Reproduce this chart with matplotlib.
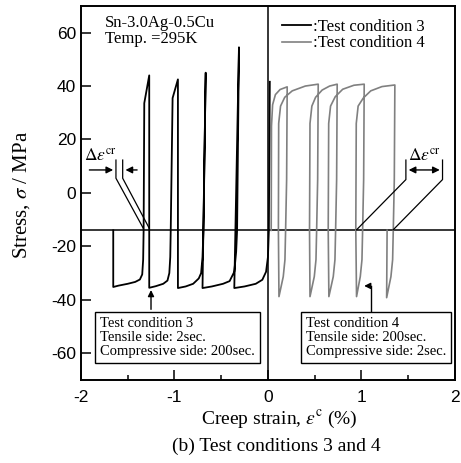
import matplotlib
matplotlib.use('Agg')
import matplotlib.pyplot as plt

plt.rcParams['axes.unicode_minus'] = False
plt.rcParams['mathtext.fontset'] = 'stix'

# Test condition 3 (black): tensile 2 s, compressive 200 s
black_x = [-1.655, -1.655, -1.60, -1.50, -1.42, -1.37, -1.345, -1.335, -1.330, -1.323, -1.27,
           -1.27, -1.20, -1.12, -1.075, -1.055, -1.045, -1.040, -1.02, -0.963,
           -0.963, -0.88, -0.80, -0.74, -0.715, -0.700, -0.690, -0.666,
           -0.700, -0.60, -0.48, -0.41, -0.36, -0.340, -0.330, -0.310,
           -0.360, -0.25, -0.13, -0.06, -0.02, 0.000, 0.010, 0.020]
black_y = [-14.0, -35.2, -34.7, -34.0, -33.3, -32.4, -30.5, -25.0, -14.0, 33.6, 44.0,
           -35.5, -34.9, -34.0, -32.8, -30.0, -24.0, -14.0, 35.5, 42.5,
           -35.6, -35.0, -34.0, -32.0, -30.0, -24.0, -14.0, 45.0,
           -35.6, -35.0, -34.0, -33.0, -29.5, -22.0, -14.0, 54.5,
           -35.6, -35.0, -34.0, -32.5, -29.5, -24.0, -14.0, 41.6]

# Test condition 4 (gray): tensile 200 s, compressive 2 s
gray_x = [0.035, 0.038, 0.05, 0.08, 0.13, 0.206,
          0.200, 0.189, 0.182, 0.164, 0.118,
          0.112, 0.115, 0.135, 0.18, 0.26, 0.40, 0.538,
          0.532, 0.521, 0.514, 0.496, 0.450,
          0.445, 0.450, 0.47, 0.51, 0.58, 0.66, 0.741,
          0.735, 0.724, 0.717, 0.699, 0.652,
          0.645, 0.650, 0.67, 0.72, 0.80, 0.92, 1.030,
          1.024, 1.013, 1.006, 0.988, 0.948,
          0.940, 0.945, 0.965, 1.02, 1.10, 1.22, 1.358,
          1.352, 1.341, 1.334, 1.316, 1.270,
          1.275]
gray_y = [-14.0, 25.0, 33.0, 36.8, 38.7, 39.7,
          5.0, -14.0, -25.0, -31.3, -38.8,
          -14.0, 26.0, 32.5, 35.8, 38.2, 40.0, 40.7,
          5.0, -14.0, -25.0, -31.3, -38.8,
          -14.0, 26.0, 32.5, 35.8, 38.5, 40.0, 40.7,
          5.0, -14.0, -25.0, -31.3, -38.8,
          -14.0, 26.0, 32.5, 36.0, 38.8, 40.3, 40.7,
          5.0, -14.0, -25.0, -31.3, -38.8,
          -14.0, 26.0, 32.5, 35.5, 38.2, 39.8, 40.4,
          5.0, -14.0, -25.0, -31.3, -39.2,
          -14.0]

ref_stress = -14.0
x_ticks = [-2, -1, 0, 1, 2]
x_minor = [-1.5, -0.5, 0.5, 1.5]
y_ticks = [-60, -40, -20, 0, 20, 40, 60]

serif = 'Liberation Serif'
sans = 'Liberation Sans'

fig = plt.figure(figsize=(4.61, 4.63), dpi=100)
ax = fig.add_axes([0.1757, 0.1793, 0.811, 0.808])

ax.axhline(ref_stress, color='k', lw=1.1)
ax.axvline(0, color='k', lw=1.1)

ax.plot(gray_x, gray_y, color='#808080', lw=1.2, label=':Test condition 4')
ax.plot(black_x, black_y, color='k', lw=1.3, label=':Test condition 3')

ax.set_xlim(-2, 2)
ax.set_ylim(-70, 70)
ax.set_xticks(x_ticks)
ax.set_xticks(x_minor, minor=True)
ax.set_yticks(y_ticks)
ax.tick_params(which='major', direction='in', length=7, width=1.1, labelsize=12.5)
ax.tick_params(axis='x', which='major', pad=7)
ax.tick_params(axis='x', which='minor', direction='in', length=3.5, width=1.1)
for lab in ax.get_xticklabels() + ax.get_yticklabels():
    lab.set_family(sans)
for sp in ax.spines.values():
    sp.set_linewidth(1.4)

# legend
h, l = ax.get_legend_handles_labels()
ax.legend(h[::-1], l[::-1], loc='upper left', bbox_to_anchor=(0.537, 0.966),
          frameon=False, prop={'family': serif, 'size': 12}, handlelength=1.75,
          handletextpad=0.15, labelspacing=0.05, borderpad=0, borderaxespad=0)

ax.text(-1.74, 66.5, 'Sn-3.0Ag-0.5Cu\nTemp. =295K', family=serif, size=12,
        ha='left', va='top', linespacing=0.95)

# creep strain range markers, left
ax.annotate('', xy=(-1.626, 8.6), xytext=(-1.94, 8.6),
            arrowprops=dict(arrowstyle='-|>', color='k', lw=1, mutation_scale=10))
ax.annotate('', xy=(-1.554, 8.6), xytext=(-1.37, 8.6),
            arrowprops=dict(arrowstyle='-|>', color='k', lw=1, mutation_scale=10))
ax.plot([-1.626, -1.626, -1.334], [12.3, 5.5, -13.2], color='k', lw=0.9)
ax.plot([-1.554, -1.554, -1.270], [12.3, 5.5, -13.2], color='k', lw=0.9)
ax.text(-1.79, 10.5, r'$\Delta\varepsilon^{\rm cr}$', size=12.5, ha='center', va='bottom')

# creep strain range markers, right
ax.annotate('', xy=(1.476, 8.6), xytext=(1.868, 8.6),
            arrowprops=dict(arrowstyle='<|-|>', color='k', lw=1, mutation_scale=10))
ax.plot([1.476, 1.476, 0.948], [12.3, 5.0, -13.8], color='k', lw=0.9)
ax.plot([1.868, 1.868, 1.340], [12.3, 5.0, -13.8], color='k', lw=0.9)
ax.text(1.67, 10.5, r'$\Delta\varepsilon^{\rm cr}$', size=12.5, ha='center', va='bottom')

# condition boxes
box = dict(boxstyle='square,pad=0.35', fc='white', ec='k', lw=1)
ax.text(-1.797, -46.4, 'Test condition 3\nTensile side: 2sec.\nCompressive side: 200sec.',
        family=serif, size=10.5, ha='left', va='top', linespacing=1.1, bbox=box)
ax.annotate('', xy=(-1.251, -35.3), xytext=(-1.251, -44.6),
            arrowprops=dict(arrowstyle='-|>', color='k', lw=1, mutation_scale=9))
ax.text(0.406, -46.4, 'Test condition 4\nTensile side: 200sec.\nCompressive side: 2sec.',
        family=serif, size=10.5, ha='left', va='top', linespacing=1.1, bbox=box)
ax.plot([1.10, 1.10], [-44.6, -34.8], color='k', lw=1)
ax.annotate('', xy=(1.0, -34.8), xytext=(1.10, -34.8),
            arrowprops=dict(arrowstyle='-|>', color='k', lw=1, mutation_scale=9))

fig.text(0.047, 0.58, r'Stress, $\sigma$ / MPa', family=serif, size=15,
         rotation=90, ha='center', va='center')
fig.text(0.607, 0.095, r'Creep strain, $\varepsilon^{\rm c}$ (%)', family=serif, size=14,
         ha='center', va='center')
fig.text(0.6, 0.036, '(b) Test conditions 3 and 4', family=serif, size=14,
         ha='center', va='center')

fig.savefig('out.png', dpi=100)
